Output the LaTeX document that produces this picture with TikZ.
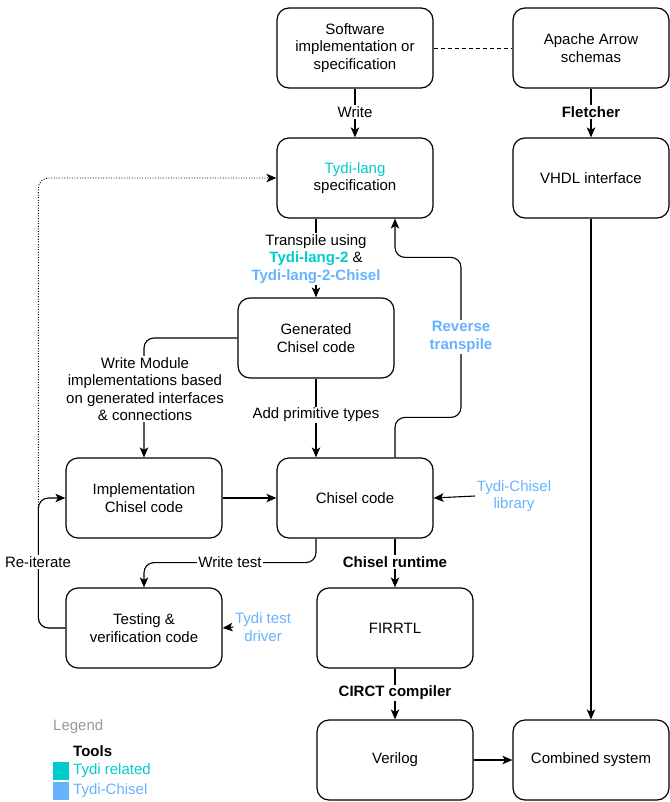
\documentclass[tikz,border=0pt]{standalone}
\usepackage{fontspec}
\setmainfont{Liberation Sans}
\usetikzlibrary{arrows.meta}
\definecolor{tydi}{RGB}{0,204,204}
\definecolor{tchisel}{RGB}{102,178,255}
\definecolor{leggray}{RGB}{153,153,153}
\begin{document}
\begin{tikzpicture}[x=1pt,y=-1pt,
  font=\fontsize{15}{17.3}\selectfont,
  box/.style={draw, line width=1.2pt, rounded corners=12pt, minimum width=156pt, minimum height=80pt, align=center, inner sep=0pt},
  conn/.style={line width=1.1pt, rounded corners=10pt},
  arr/.style={conn, -{Stealth[length=10pt,width=8.5pt,inset=2.5pt]}},
  lbl/.style={fill=white, align=center, inner sep=1.5pt},
  tlbl/.style={align=center, inner sep=1.5pt, text=tchisel}
]
\useasboundingbox (0,0) rectangle (669,802);

% boxes
\node[box] (sw) at (355,48) {Software\\implementation or\\specification};
\node[box] (apache) at (591,48) {Apache Arrow\\schemas};
\node[box] (tydi) at (355,178) {\textcolor{tydi}{Tydi-lang}\\specification};
\node[box] (vhdl) at (591,178) {VHDL interface};
\node[box] (gen) at (316,338) {Generated\\Chisel code};
\node[box] (impl) at (144,498) {Implementation\\Chisel code};
\node[box] (chisel) at (355,498) {Chisel code};
\node[box] (testing) at (144,628) {Testing \&\\verification code};
\node[box] (firrtl) at (395,628) {FIRRTL};
\node[box] (verilog) at (395,760) {Verilog};
\node[box] (comb) at (591,760) {Combined system};

% side labels (sources)
\node[tlbl] (tclib) at (514,496) {Tydi-Chisel\\library};
\node[tlbl] (tdrv) at (263,627) {Tydi test\\driver};

% connectors
\draw[line width=0.9pt, dash pattern=on 4pt off 3pt] (sw.east) -- (apache.west);
\draw[arr] (sw.south) -- (tydi.north);
\draw[arr] (apache.south) -- (vhdl.north);
\draw[arr] ([xshift=-39pt]tydi.south) -- (gen.north);
\draw[arr] ([xshift=40pt]chisel.north) -- ++(0,-40) -- ++(66,0) -- ++(0,-160) -- ++(-66,0) -- ([xshift=40pt]tydi.south);
\draw[arr] (gen.west) -| (impl.north);
\draw[arr] (gen.south) -- ([xshift=-39pt]chisel.north);
\draw[arr] (impl.east) -- (chisel.west);
\draw[arr] (tclib.west) -- (chisel.east);
\draw[arr] ([xshift=-39pt]chisel.south) -- ++(0,24) -| (testing.north);
\draw[arr] ([xshift=40pt]chisel.south) -- (firrtl.north);
\draw[arr] (tdrv.west) -- (testing.east);
\draw[arr] (firrtl.south) -- (verilog.north);
\draw[arr] (verilog.east) -- (comb.west);
\draw[arr] (vhdl.south) -- (comb.north);
\draw[arr, line width=0.9pt, dash pattern=on 1pt off 1.6pt] (testing.west) -- ++(-27,0) |- (tydi.west);
\draw[arr] (testing.west) -- ++(-27,0) |- (impl.west);

% edge labels
\node[lbl] (lwrite) at (355,112) {Write};
\node[lbl] (lflet) at (591,112) {\bfseries Fletcher};
\node[lbl] (ltrans) at (316,259) {Transpile using\\\textcolor{tydi}{\bfseries Tydi-lang-2} \&\\\textcolor{tchisel}{\bfseries Tydi-lang-2-Chisel}};
\node[lbl, text=tchisel, font=\fontsize{15}{17.3}\selectfont\bfseries] (lrev) at (461,337) {Reverse\\transpile};
\node[lbl] (lmod) at (145,389) {Write Module\\implementations based\\on generated interfaces\\\& connections};
\node[lbl] (lprim) at (316,415) {Add primitive types};
\node[lbl] (ltest) at (230,562) {Write test};
\node[lbl] (lrt) at (395,562) {\bfseries Chisel runtime};
\node[lbl] (lre) at (38,562) {Re-iterate};
\node[lbl] (lcirct) at (395,693) {\bfseries CIRCT compiler};

% legend
\node[anchor=west, text=leggray, inner sep=0pt] (legend) at (53,727) {Legend};
\node[anchor=west, inner sep=0pt] (tools) at (73,751) {\bfseries Tools};
\fill[tydi] (53,762) rectangle (69,780);
\fill[tchisel] (53,782) rectangle (69,800);
\node[anchor=west, text=tydi, inner sep=0pt] (ltr) at (73,771) {Tydi related};
\node[anchor=west, text=tchisel, inner sep=0pt] (ltc) at (73,791) {Tydi-Chisel};
\end{tikzpicture}
\end{document}
